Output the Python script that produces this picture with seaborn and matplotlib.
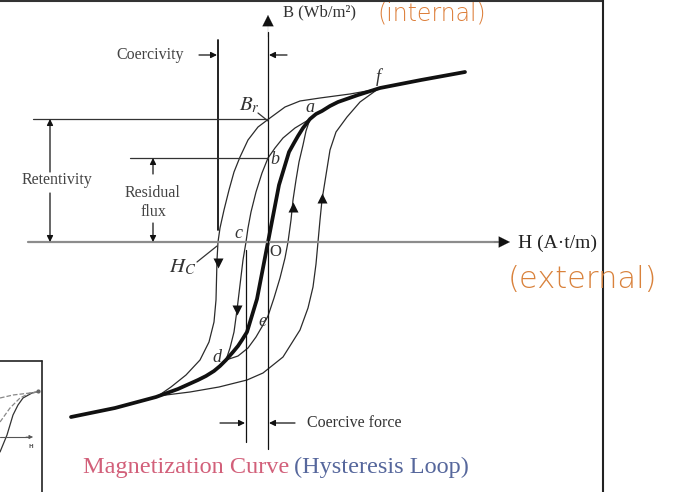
import numpy as np
import pandas as pd
import matplotlib.pyplot as plt
import seaborn as sns

# values: H (field, x10 A.t/m), B (flux density, Wb/m^2)
thick_H = [-19.7, -15.3, -11.2, -9.0, -7.0, -6.2, -5.4, -4.8, -4.2, -3.5, -3.0, -2.6,
           -2.1, -1.1, 0.0, 1.1, 2.1, 2.6, 3.0, 3.5, 4.2, 4.8, 5.4, 6.2, 7.0, 9.0,
           11.2, 15.3, 19.7]
thick_B = [-1.75, -1.66, -1.55, -1.47, -1.38, -1.34, -1.29, -1.24, -1.18, -1.10, -1.04, -0.98,
           -0.90, -0.57, 0.0, 0.57, 0.90, 0.99, 1.06, 1.14, 1.23, 1.28, 1.31, 1.36, 1.40, 1.47,
           1.54, 1.62, 1.70]

# outer loop, descending branch (f -> Br -> Hc -> bottom)
outer_down_H = [11.0, 8.2, 5.2, 3.2, 1.7, 0.2, -1.0, -2.0, -2.8, -3.4, -3.9, -4.4,
                -4.8, -5.0, -5.1, -5.15, -5.2, -5.4, -5.9, -6.8, -8.2, -9.7, -11.0]
outer_down_B = [1.53, 1.48, 1.44, 1.41, 1.35, 1.24, 1.15, 1.02, 0.85, 0.70, 0.52, 0.32,
                0.14, 0.0, -0.18, -0.38, -0.58, -0.80, -1.00, -1.18, -1.33, -1.45, -1.54]

# outer loop, ascending branch
outer_up_H = [-11.0, -7.8, -4.9, -2.1, -0.5, 1.5, 3.2, 4.0, 4.5, 4.8, 5.0,
              5.2, 5.4, 5.8, 6.2, 6.8, 7.9, 9.2, 11.0]
outer_up_B = [-1.54, -1.50, -1.45, -1.38, -1.31, -1.15, -0.88, -0.66, -0.45, -0.22, 0.0,
              0.22, 0.42, 0.67, 0.92, 1.10, 1.25, 1.40, 1.53]

# minor loop a -> b -> c -> d
inner_down_H = [4.2, 2.7, 1.5, 0.7, 0.0, -0.6, -1.2, -1.7, -2.0, -2.2, -2.5, -2.8,
                -3.1, -3.4, -3.8, -4.2]
inner_down_B = [1.23, 1.14, 1.04, 0.94, 0.84, 0.69, 0.50, 0.30, 0.14, 0.0, -0.18, -0.43,
                -0.68, -0.90, -1.06, -1.18]

# minor loop d -> e -> a
inner_up_H = [-4.2, -3.0, -2.0, -1.2, -0.5, 0.0, 0.6, 1.2, 1.7, 2.0, 2.3, 2.5,
              2.8, 3.1, 3.5, 3.8, 4.2]
inner_up_B = [-1.18, -1.14, -1.06, -0.95, -0.83, -0.74, -0.56, -0.36, -0.16, 0.0, 0.22, 0.42,
              0.62, 0.80, 0.97, 1.11, 1.23]

# direction markers on the branches
arrow_H = [-5.0, -3.1, 2.5, 5.4]
arrow_B = [-0.21, -0.68, 0.35, 0.44]
arrow_dir = ["v", "v", "^", "^"]

# little inset in the bottom-left corner
inset_H = [-26.8, -26.1, -25.5, -25.0, -24.5, -23.6, -23.1]
inset_B = [-2.10, -1.93, -1.73, -1.63, -1.56, -1.51, -1.50]
inset_d1_H = [-26.8, -25.5, -23.8, -23.1]
inset_d1_B = [-1.56, -1.53, -1.51, -1.50]
inset_d2_H = [-26.8, -25.8, -24.8, -23.8, -23.1]
inset_d2_B = [-1.80, -1.66, -1.56, -1.51, -1.50]

Hc = -5.0
Br = 1.23
B_res = 0.84
H_cf = -2.2

sns.set_theme(style="white")
plt.rcParams["font.family"] = ["Liberation Serif", "DejaVu Serif"]
plt.rcParams["mathtext.fontset"] = "stix"

fig = plt.figure(figsize=(6.87, 4.92), dpi=100)
ax = fig.add_axes([0, 0, 1, 1])
ax.set_xlim(-26.8, 41.9)
ax.set_ylim(-2.50, 2.42)
ax.axis("off")

thin = dict(color="#2b2b2b", lw=0.9, sort=False, estimator=None, legend=False)
sns.lineplot(x=outer_down_H, y=outer_down_B, ax=ax, **thin)
sns.lineplot(x=outer_up_H, y=outer_up_B, ax=ax, **thin)
sns.lineplot(x=inner_down_H, y=inner_down_B, ax=ax, **thin)
sns.lineplot(x=inner_up_H, y=inner_up_B, ax=ax, **thin)
sns.lineplot(x=thick_H, y=thick_B, ax=ax, color="#111111", lw=2.7, sort=False,
             estimator=None, legend=False)
ax.lines[-1].set_solid_joinstyle("round")
for h, b, m in zip(arrow_H, arrow_B, arrow_dir):
    ax.plot(h, b, marker=m, color="#111111", ms=6.5, mec="none")


def arrow(tail, tip, color="#111111", scale=9, lw=0.9):
    ax.annotate("", xy=tip, xytext=tail,
                arrowprops=dict(arrowstyle="-|>", color=color, lw=lw,
                                mutation_scale=scale, shrinkA=0, shrinkB=0))


# axes
ax.plot([-24.0, 23.0], [0, 0], color="#8c8c8c", lw=1.6)
arrow((22.6, 0), (24.2, 0), scale=20, lw=0.1)
ax.plot([0, 0], [-2.07, 2.1], color="#111111", lw=0.9)
arrow((0, 2.05), (0, 2.27), scale=20, lw=0.1)
ax.text(1.5, 2.30, "B (Wb/m²)", fontsize=12, color="#333333", va="center")
ax.text(25.0, -0.01, "H (A·t/m)", fontsize=14, color="#222222", va="center")

# coercivity
ax.plot([Hc, Hc], [0.12, 2.02], color="#111111", lw=1.3)
ax.text(-11.8, 1.87, "Coercivity", fontsize=11.5, color="#444444", ha="center", va="center")
arrow((-6.9, 1.87), (Hc - 0.1, 1.87))
arrow((1.9, 1.87), (0.1, 1.87))

# retentivity
ax.plot([-23.5, 0], [Br, Br], color="#333333", lw=0.9)
arrow((-21.8, 0.70), (-21.8, Br))
arrow((-21.8, 0.49), (-21.8, 0.0))
ax.text(-21.1, 0.62, "Retentivity", fontsize=11.5, color="#444444", ha="center", va="center")

# residual flux
ax.plot([-13.8, 0], [B_res, B_res], color="#333333", lw=0.9)
arrow((-11.5, 0.68), (-11.5, B_res))
arrow((-11.5, 0.19), (-11.5, 0.0))
ax.text(-11.5, 0.49, "Residual", fontsize=11.5, color="#444444", ha="center", va="center")
ax.text(-11.5, 0.30, "flux", fontsize=11.5, color="#444444", ha="center", va="center")

# coercive force
ax.plot([H_cf, H_cf], [-0.08, -2.0], color="#111111", lw=0.9)
arrow((-4.8, -1.81), (H_cf - 0.1, -1.81))
arrow((2.7, -1.81), (0.1, -1.81))
ax.text(3.9, -1.81, "Coercive force", fontsize=11.5, color="#333333", va="center")

# point labels
it = dict(fontsize=13, style="italic", color="#333333", ha="center", va="center")
ax.text(-1.9, 1.37, "$B_r$", fontsize=15, color="#333333", ha="center", va="center")
ax.plot([-1.0, 0.0], [1.29, 1.21], color="#333333", lw=0.9)
ax.text(4.2, 1.34, "a", **it)
ax.text(0.7, 0.82, "b", **it)
ax.text(-3.0, 0.08, "c", **it)
ax.text(-5.1, -1.15, "d", **it)
ax.text(-0.6, -0.80, "e", **it)
ax.text(11.0, 1.65, "f", **it)
ax.text(0.7, -0.10, "O", fontsize=12, color="#333333", ha="center", va="center")
ax.text(-8.5, -0.25, "$H_C$", fontsize=15, color="#333333", ha="center", va="center")
ax.plot([-7.1, -5.1], [-0.20, -0.04], color="#333333", lw=0.9)

# title
ax.text(2.1, -2.25, "Magnetization Curve", fontsize=17.5, color="#d2607a",
        ha="right", va="center")
ax.text(2.6, -2.25, "(Hysteresis Loop)", fontsize=17.5, color="#56679c",
        ha="left", va="center")

# frame of the slide
ax.plot([-26.8, 33.5], [2.41, 2.41], color="#333333", lw=1.5)
ax.plot([33.5, 33.5], [2.42, -2.50], color="#222222", lw=1.5)

# inset
ax.plot([-26.8, -22.6], [-1.19, -1.19], color="#222222", lw=1.2)
ax.plot([-22.6, -22.6], [-1.19, -2.50], color="#222222", lw=1.2)
sns.lineplot(x=inset_H, y=inset_B, ax=ax, color="#333333", lw=0.9, sort=False,
             estimator=None, legend=False)
sns.lineplot(x=inset_d1_H, y=inset_d1_B, ax=ax, color="#888888", lw=0.9, ls="--",
             sort=False, estimator=None, legend=False)
sns.lineplot(x=inset_d2_H, y=inset_d2_B, ax=ax, color="#888888", lw=0.9, ls="--",
             sort=False, estimator=None, legend=False)
ax.plot([-26.8, -23.8], [-1.95, -1.95], color="#555555", lw=0.8)
arrow((-24.2, -1.95), (-23.5, -1.95), color="#555555", scale=6, lw=0.5)
ax.plot(-23.0, -1.49, "o", color="#666666", ms=2)
ax.text(-23.7, -2.04, "H", fontsize=4, color="#555555", ha="center", va="center",
        family="DejaVu Sans", weight="bold")

# handwritten notes
ax.text(10.9, 2.405, "(internal)", fontsize=17, color="#dd7f3a", va="top",
        family="DejaVu Sans", weight="light")
ax.text(24.0, -0.38, "(external)", fontsize=22, color="#d9823c", va="center",
        family="DejaVu Sans", weight="light")

fig.savefig("out.png", dpi=100, facecolor="white")
